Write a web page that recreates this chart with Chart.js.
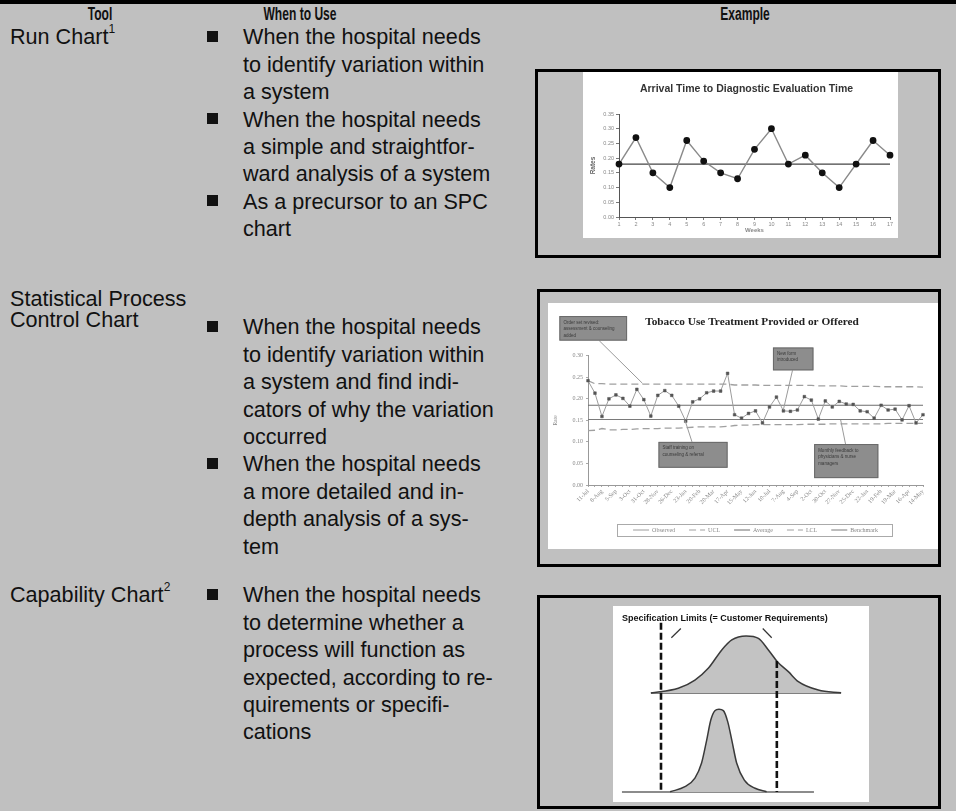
<!DOCTYPE html>
<html><head><meta charset="utf-8">
<script src="https://cdn.jsdelivr.net/npm/chart.js@4.4.1/dist/chart.umd.min.js"></script>
<style>
html,body{margin:0;padding:0;}
body{width:956px;height:811px;background:#c0c0c0;position:relative;overflow:hidden;font-family:"Liberation Sans",Arial,sans-serif;color:#111;}
.topbar{position:absolute;left:0;top:0;width:956px;height:4px;background:#000;}
.hd{position:absolute;top:4px;height:20px;line-height:20px;font-weight:bold;font-size:18px;font-family:"Liberation Sans",Arial,sans-serif;transform:translateX(-50%) scaleX(0.67);white-space:nowrap;}
.t{position:absolute;font-size:21.6px;line-height:27.4px;height:27.4px;white-space:nowrap;}
.b{position:absolute;width:11px;height:11px;background:#111;}
.box{position:absolute;border:3px solid #000;box-sizing:border-box;}
.cv{position:absolute;background:#fff;display:block;}
sup{font-size:12px;line-height:0;vertical-align:top;position:relative;top:6px;}
</style></head>
<body>
<div class="topbar"></div>
<div class="hd" style="left:100px">Tool</div>
<div class="hd" style="left:300px">When to Use</div>
<div class="hd" style="left:745px">Example</div>
<div id="txt"></div>
<div class="box" style="left:535px;top:69px;width:406px;height:189px"></div>
<div class="box" style="left:537px;top:289px;width:404px;height:278px"></div>
<div class="box" style="left:537px;top:595px;width:404px;height:214px"></div>
<canvas id="c1" class="cv" width="315" height="166" style="left:583px;top:72px"></canvas>
<canvas id="c2" class="cv" width="390" height="246" style="left:548px;top:303px"></canvas>
<canvas id="c3" class="cv" width="256" height="196" style="left:613px;top:606px"></canvas>
<script>
// ---------- table text ----------
const toolLabels = [
  {html:'Run Chart<sup>1</sup>', cy:37},
  {html:'Statistical Process', cy:299},
  {html:'Control Chart', cy:320},
  {html:'Capability Chart<sup>2</sup>', cy:595}
];
const useRows = [
  {cy:37, lines:[['When the hospital needs',1],['to identify variation within',0],['a system',0],['When the hospital needs',1],['a simple and straightfor-',0],['ward analysis of a system',0],['As a precursor to an SPC',1],['chart',0]]},
  {cy:327, lines:[['When the hospital needs',1],['to identify variation within',0],['a system and find indi-',0],['cators of why the variation',0],['occurred',0],['When the hospital needs',1],['a more detailed and in-',0],['depth analysis of a sys-',0],['tem',0]]},
  {cy:595, lines:[['When the hospital needs',1],['to determine whether a',0],['process will function as',0],['expected, according to re-',0],['quirements or specifi-',0],['cations',0]]}
];
const txt = document.getElementById('txt');
toolLabels.forEach(l=>{const d=document.createElement('div');d.className='t';d.style.left='10px';d.style.top=(l.cy-13.7)+'px';d.innerHTML=l.html;txt.appendChild(d);});
useRows.forEach(r=>{r.lines.forEach((ln,i)=>{const cy=r.cy+i*27.4;const d=document.createElement('div');d.className='t';d.style.left='243px';d.style.top=(cy-13.7)+'px';d.textContent=ln[0];txt.appendChild(d);
  if(ln[1]){const b=document.createElement('div');b.className='b';b.style.left='207px';b.style.top=(cy-6.5)+'px';txt.appendChild(b);}});});

// ---------- Chart 1 : run chart data ----------
const runTitle = 'Arrival Time to Diagnostic Evaluation Time';
const runWeeks = ['1','2','3','4','5','6','7','8','9','10','11','12','13','14','15','16','17'];
const runRates = [0.18,0.27,0.15,0.10,0.26,0.19,0.15,0.13,0.23,0.30,0.18,0.21,0.15,0.10,0.18,0.26,0.21];
const runCenter = 0.18;
const runYTicks = [0,0.05,0.10,0.15,0.20,0.25,0.30,0.35];

// ---------- Chart 2 : SPC data ----------
const spcTitle = 'Tobacco Use Treatment Provided or Offered';
const spcDates = ['11-Jul','25-Jul','8-Aug','22-Aug','5-Sep','19-Sep','3-Oct','17-Oct','31-Oct','14-Nov','28-Nov','12-Dec','26-Dec','9-Jan','23-Jan','6-Feb','20-Feb','6-Mar','20-Mar','3-Apr','17-Apr','1-May','15-May','29-May','12-Jun','26-Jun','10-Jul','24-Jul','7-Aug','21-Aug','4-Sep','18-Sep','2-Oct','16-Oct','30-Oct','13-Nov','27-Nov','11-Dec','25-Dec','8-Jan','22-Jan','5-Feb','19-Feb','5-Mar','19-Mar','2-Apr','16-Apr','30-Apr','14-May'];
const spcObserved = [0.242,0.213,0.159,0.200,0.209,0.201,0.183,0.222,0.198,0.160,0.208,0.219,0.208,0.183,0.148,0.193,0.200,0.214,0.218,0.218,0.259,0.163,0.155,0.166,0.172,0.144,0.181,0.204,0.172,0.171,0.174,0.205,0.197,0.153,0.195,0.181,0.194,0.188,0.187,0.172,0.170,0.155,0.185,0.174,0.176,0.151,0.184,0.144,0.163];
const spcUCL = [0.242,0.235,0.235,0.234,0.234,0.234,0.234,0.234,0.234,0.234,0.234,0.234,0.234,0.234,0.234,0.234,0.234,0.234,0.234,0.234,0.234,0.232,0.232,0.232,0.232,0.231,0.231,0.231,0.231,0.231,0.231,0.231,0.231,0.230,0.230,0.230,0.230,0.229,0.229,0.229,0.229,0.229,0.228,0.228,0.228,0.228,0.228,0.228,0.227];
const spcLCL = [0.126,0.127,0.131,0.128,0.128,0.129,0.129,0.130,0.131,0.131,0.131,0.132,0.132,0.132,0.133,0.134,0.135,0.135,0.135,0.135,0.136,0.138,0.139,0.139,0.140,0.140,0.140,0.140,0.140,0.140,0.140,0.141,0.141,0.141,0.141,0.142,0.142,0.142,0.142,0.142,0.142,0.142,0.142,0.143,0.143,0.143,0.143,0.143,0.143];
const spcAverage = 0.185;
const spcBenchmark = 0.152;
const spcYTicks = [0,0.05,0.10,0.15,0.20,0.25,0.30];
const spcSeriesNames = ['Observed','UCL','Average','LCL','Benchmark'];
const spcNotes = [
  {x0:-4.1,x1:5.6,y0:0.335,y1:0.392,fx:1.6,fy:0.335,tx:7.8,ty:0.236,lines:['Order set revised:','assessment & counseling','added']},
  {x0:26.5,x1:32.3,y0:0.266,y1:0.319,fx:29.3,fy:0.266,tx:28.0,ty:0.175,lines:['New form','introduced']},
  {x0:10.1,x1:20.0,y0:0.040,y1:0.100,fx:14.9,fy:0.100,tx:13.9,ty:0.150,lines:['Staff training on','counseling & referral']},
  {x0:32.4,x1:41.6,y0:0.016,y1:0.095,fx:36.9,fy:0.095,tx:36.2,ty:0.151,lines:['Monthly feedback to','physicians & nurse','managers']}
];

// ---------- Chart 3 : capability data ----------
const capTitle = 'Specification Limits (= Customer Requirements)';
const capTopX = [14.8,25.5,32.0,37.2,42.5,46.4,52.0,56.8,60.7,64.2,68.5,72.4,80.2,89.1];
const capTopY = [55.6,58.0,62.2,68.2,77.6,82.7,84.7,83.5,77.6,71.6,66.5,61.4,57.1,55.7];
const capTopBase = 55.6;
const capBotX = [22.3,28.1,32.0,34.6,36.6,38.2,39.8,41.4,43.1,44.8,46.4,48.3,51.3,55.5,60.0];
const capBotY = [5.2,7.8,12.2,19.9,31.6,41.8,46.6,47.3,46.6,41.0,31.6,19.9,11.2,7.0,5.2];
const capBotBase = 5.1;
const capLSL = 18.75, capUSL = 64.0;

const common = {animation:false,responsive:false,events:[],devicePixelRatio:1};

// title drawn at a chosen canvas position
const placedTitle = {id:'placedTitle',afterDraw(ch,args,o){
  if(!o||!o.text) return; const c=ch.ctx; c.save();
  c.fillStyle=o.color; c.font=o.font; c.textAlign='center'; c.textBaseline='middle';
  c.fillText(o.text,o.x,o.y); c.restore();
}};

// Chart 1
new Chart(document.getElementById('c1'),{
  type:'line',
  data:{labels:runWeeks,datasets:[
    {data:runRates,borderColor:'#8a8a8a',borderWidth:1.4,pointStyle:'circle',pointRadius:2.7,pointBackgroundColor:'#111',pointBorderColor:'#111',tension:0},
    {data:runWeeks.map(()=>runCenter),borderColor:'#454545',borderWidth:1.3,pointRadius:0}
  ]},
  options:{...common,
    layout:{padding:{left:6,right:8,top:42,bottom:4}},
    plugins:{legend:{display:false},tooltip:{enabled:false},
      placedTitle:{text:runTitle,x:163.5,y:17,font:'bold 10.5px "Liberation Sans"',color:'#333'}},
    scales:{
      x:{offset:false,grid:{drawOnChartArea:false,tickLength:3,color:'#777'},border:{color:'#555'},
         ticks:{font:{family:'Liberation Sans',size:5.5},color:'#888',maxRotation:0,autoSkip:false,padding:1},
         title:{display:true,text:'Weeks',font:{family:'Liberation Sans',size:6,weight:'bold'},color:'#888',padding:0},
         afterFit(s){s.height=17;}},
      y:{min:0,max:0.35,grid:{drawOnChartArea:false,tickLength:3,color:'#777'},border:{color:'#555'},
         afterBuildTicks(s){s.ticks=runYTicks.map(v=>({value:v}));},
         ticks:{callback:v=>v.toFixed(2),font:{family:'Liberation Sans',size:5.5},color:'#888',padding:2},
         title:{display:true,text:'Rates',font:{family:'Liberation Sans',size:6.5,weight:'bold'},color:'#666',padding:0},
         afterFit(s){s.width=30;}}
    }
  },
  plugins:[placedTitle]
});

// Chart 2
const legendFrame = {id:'legendFrame',afterDraw(ch){
  const hb=ch.legend&&ch.legend.legendHitBoxes; if(!hb||!hb.length) return;
  const l=Math.min(...hb.map(h=>h.left))-16, r=Math.max(...hb.map(h=>h.left+h.width))+14;
  const t=hb[0].top-3, b=hb[0].top+hb[0].height+3;
  const c=ch.ctx; c.save(); c.strokeStyle='#aaa'; c.lineWidth=1; c.strokeRect(Math.round(l)+.5,Math.round(t)+.5,Math.round(r-l),Math.round(b-t)); c.restore();
}};
const spcNotesPlugin = {id:'spcNotes',afterDraw(ch){
  const xs=ch.scales.x, ys=ch.scales.y, c=ch.ctx; c.save();
  spcNotes.forEach(n=>{
    c.strokeStyle='#9a9a9a'; c.lineWidth=1; c.beginPath();
    c.moveTo(xs.getPixelForValue(n.fx),ys.getPixelForValue(n.fy)); c.lineTo(xs.getPixelForValue(n.tx),ys.getPixelForValue(n.ty)); c.stroke();
    const x0=xs.getPixelForValue(n.x0), x1=xs.getPixelForValue(n.x1), y0=ys.getPixelForValue(n.y1), y1=ys.getPixelForValue(n.y0);
    c.fillStyle='#8d8d8d'; c.fillRect(x0,y0,x1-x0,y1-y0);
    c.strokeStyle='#6a6a6a'; c.strokeRect(x0+.5,y0+.5,x1-x0-1,y1-y0-1);
    c.fillStyle='#3a3a3a'; c.font='4.5px "Liberation Sans"'; c.textBaseline='top';
    n.lines.forEach((s,i)=>c.fillText(s,x0+4,y0+4+i*6.5));
  });
  c.restore();
}};
new Chart(document.getElementById('c2'),{
  type:'line',
  data:{labels:spcDates,datasets:[
    {label:spcSeriesNames[0],data:spcObserved,borderColor:'#9c9c9c',borderWidth:1,pointStyle:'rect',pointRadius:1.9,pointBackgroundColor:'#555',pointBorderColor:'#555',pointBorderWidth:0.5,order:0},
    {label:spcSeriesNames[1],data:spcUCL,borderColor:'#a0a0a0',borderDash:[7,4],borderWidth:1.3,pointRadius:0,order:1},
    {label:spcSeriesNames[2],data:spcDates.map(()=>spcAverage),borderColor:'#6c6c6c',borderWidth:1.2,pointRadius:0,order:2},
    {label:spcSeriesNames[3],data:spcLCL,borderColor:'#a0a0a0',borderDash:[7,4],borderWidth:1.3,pointRadius:0,order:3},
    {label:spcSeriesNames[4],data:spcDates.map(()=>spcBenchmark),borderColor:'#7a7a7a',borderWidth:1.2,pointRadius:0,order:4}
  ]},
  options:{...common,
    layout:{padding:{left:4,right:15,top:52.7,bottom:6}},
    plugins:{tooltip:{enabled:false},
      placedTitle:{text:spcTitle,x:204,y:19,font:'bold 11.3px "Liberation Serif"',color:'#222'},
      legend:{display:true,position:'bottom',fullSize:false,
        labels:{usePointStyle:true,pointStyleWidth:16,boxHeight:6,font:{family:'Liberation Serif',size:6},color:'#888',padding:14,
          generateLabels:ch=>ch.data.datasets.map((d,i)=>({text:d.label,strokeStyle:d.borderColor,fillStyle:d.borderColor,lineWidth:1,lineDash:d.borderDash||[],pointStyle:'line',hidden:false,datasetIndex:i,fontColor:'#888'}))}}},
    scales:{
      x:{offset:false,grid:{drawOnChartArea:false,tickLength:2,color:'#aaa'},border:{color:'#999'},
         ticks:{autoSkip:false,maxRotation:45,minRotation:45,font:{family:'Liberation Serif',size:6},color:'#888',padding:1,
           callback:(v,i)=>i%2===0?spcDates[i]:''},
         afterFit(s){s.height=28;}},
      y:{min:0,max:0.30,grid:{drawOnChartArea:false,tickLength:2,color:'#aaa'},border:{color:'#999'},
         afterBuildTicks(s){s.ticks=spcYTicks.map(v=>({value:v}));},
         ticks:{callback:v=>v.toFixed(2),font:{family:'Liberation Serif',size:6},color:'#888',padding:3},
         title:{display:true,text:'Rate',font:{family:'Liberation Serif',size:5.5},color:'#888',padding:0},
         afterFit(s){s.width=36;}}
    }
  },
  plugins:[legendFrame,spcNotesPlugin,placedTitle]
});

// Chart 3
const capText = {id:'capText',afterDraw(ch){
  const c=ch.ctx,xs=ch.scales.x,ys=ch.scales.y; c.save();
  c.fillStyle='#111'; c.font='bold 9px "Liberation Sans"'; c.textBaseline='middle';
  c.fillText(capTitle,xs.getPixelForValue(3.5),ys.getPixelForValue(93.4));
  c.restore();
}};
const pts=(xs,ys)=>xs.map((x,i)=>({x,y:ys[i]}));
new Chart(document.getElementById('c3'),{
  type:'scatter',
  data:{datasets:[
    {data:[{x:capLSL,y:91.5},{x:capLSL,y:capBotBase}],showLine:true,borderColor:'#111',borderWidth:2.6,borderDash:[7,3],pointRadius:0},
    {data:[{x:capUSL,y:72.0},{x:capUSL,y:capBotBase}],showLine:true,borderColor:'#111',borderWidth:2.6,borderDash:[7,3],pointRadius:0},
    {data:[{x:26.5,y:88.5},{x:22.8,y:83.8}],showLine:true,borderColor:'#333',borderWidth:1.2,pointRadius:0},
    {data:[{x:58.5,y:88.5},{x:62.0,y:83.8}],showLine:true,borderColor:'#333',borderWidth:1.2,pointRadius:0},
    {data:pts(capTopX,capTopY),showLine:true,borderColor:'#3a3a3a',borderWidth:1.5,backgroundColor:'#c3c3c3',fill:{value:capTopBase},cubicInterpolationMode:'monotone',pointRadius:0},
    {data:[{x:14.8,y:capTopBase},{x:89.1,y:capTopBase}],showLine:true,borderColor:'#555',borderWidth:1.6,pointRadius:0},
    {data:pts(capBotX,capBotY),showLine:true,borderColor:'#3a3a3a',borderWidth:1.5,backgroundColor:'#c3c3c3',fill:{value:capBotBase},cubicInterpolationMode:'monotone',pointRadius:0},
    {data:[{x:3.5,y:capBotBase},{x:78.5,y:capBotBase}],showLine:true,borderColor:'#666',borderWidth:1.6,pointRadius:0}
  ]},
  options:{...common,
    layout:{padding:0},
    plugins:{legend:{display:false},tooltip:{enabled:false}},
    scales:{x:{type:'linear',min:0,max:100,display:false},y:{min:0,max:100,display:false}}
  },
  plugins:[capText]
});
</script>
</body></html>
